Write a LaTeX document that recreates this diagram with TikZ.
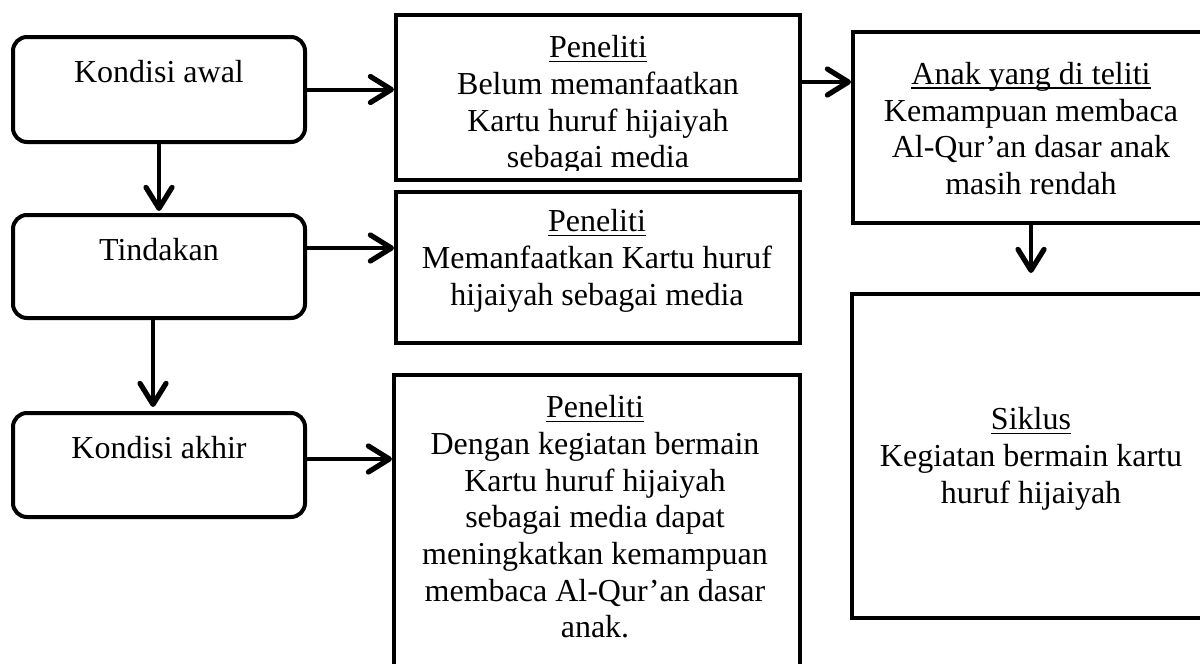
\documentclass[tikz,border=0pt]{standalone}
\usepackage{fontspec}
\setmainfont{Liberation Serif}
\usetikzlibrary{arrows.meta}
\newcommand\myul[1]{\setbox0\hbox{#1}\rlap{\rule[-2.2pt]{\wd0}{0.7pt}}\box0}
\tikzset{
  boxbase/.style={draw, line width=2pt, inner sep=0pt},
  roundbox/.style={boxbase, rounded corners=7pt},
  sqbox/.style={boxbase},
  lbl/.style={inner sep=0pt, align=center, font=\fontsize{16}{18.35}\selectfont},
  arr/.style={line width=2pt, -{Straight Barb[length=10.5pt,width=13pt,line width=2.6pt,round]}},
}
\begin{document}
\begin{tikzpicture}[x=0.5pt,y=-0.5pt]
\useasboundingbox (0,0) rectangle (1200,664);
\fill[white] (0,0) rectangle (1200,664);
\clip (0,0) rectangle (1200,664);

% left rounded boxes
\node[roundbox, minimum width=146pt, minimum height=52.5pt] (ka) at (159,89.5) {};
\node[roundbox, minimum width=146pt, minimum height=51.5pt] (td) at (159,266.5) {};
\node[roundbox, minimum width=146pt, minimum height=52pt] (kk) at (159,465) {};
% middle boxes
\node[sqbox, minimum width=202pt, minimum height=82.5pt] (p1) at (598,97.5) {};
\node[sqbox, minimum width=202pt, minimum height=75.5pt] (p2) at (598,267.5) {};
\node[sqbox, minimum width=203pt, minimum height=160pt] (p3) at (597,535) {};
% right boxes
\node[sqbox, minimum width=178pt, minimum height=95.5pt] (an) at (1031,127.5) {};
\node[sqbox, minimum width=179pt, minimum height=162pt] (sk) at (1031,456) {};

% texts
\node[lbl, anchor=base] (tka) at (159,82) {Kondisi awal};
\node[lbl, anchor=base] (ttd) at (159,260) {Tindakan};
\node[lbl, anchor=base] (tkk) at (159,458) {Kondisi akhir};
\begin{scope}
\clip (p1.north west) rectangle ([yshift=6pt]p1.south east);
\node[lbl] (tp1) at (598,105) {\myul{Peneliti}\\Belum memanfaatkan\\Kartu huruf hijaiyah\\sebagai media};
\end{scope}
\node[lbl] (tp2) at (597,261) {\myul{Peneliti}\\Memanfaatkan Kartu huruf\\hijaiyah sebagai media};
\node[lbl] (tp3) at (595,517) {\myul{Peneliti}\\Dengan kegiatan bermain\\Kartu huruf hijaiyah\\sebagai media dapat\\meningkatkan kemampuan\\membaca Al-Qur’an dasar\\anak.};
\node[lbl] (tan) at (1031,128.5) {\myul{Anak yang di teliti}\\Kemampuan membaca\\Al-Qur’an dasar anak\\masih rendah};
\node[lbl] (tsk) at (1031,459) {\myul{Siklus}\\Kegiatan bermain kartu\\huruf hijaiyah};

% connectors
\draw[arr] (ka.east) -- (ka.east -| p1.west);
\coordinate (c2) at ([yshift=9.25pt]td.east);
\draw[arr] (c2) -- (c2 -| p2.west);
\coordinate (c3) at ([yshift=3pt]kk.east);
\draw[arr] (c3) -- (c3 -| p3.west);
\coordinate (c4) at ([yshift=7.75pt]p1.east);
\draw[arr] (c4) -- (c4 -| an.west);
\draw[arr, shorten >=1pt] (ka.south) -- (td.north);
\coordinate (d2) at ([xshift=-3pt]td.south);
\draw[arr, shorten >=2pt] (d2) -- (d2 |- kk.north);
\draw[arr, shorten >=9.5pt] (an.south) -- (sk.north);
\end{tikzpicture}
\end{document}
